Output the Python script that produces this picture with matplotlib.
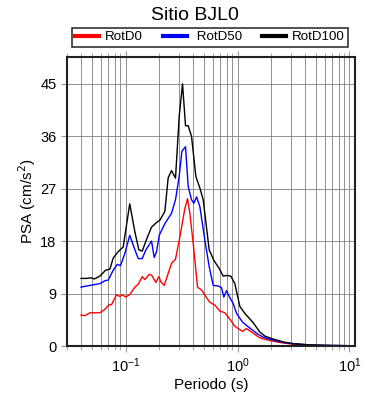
import matplotlib.pyplot as plt
import numpy as np

plt.rcParams['font.family'] = ['Liberation Sans', 'DejaVu Sans']

# RotD100 (black)
per_d100 = [0.040, 0.0442, 0.0497, 0.0525, 0.0590, 0.0663, 0.0725, 0.0776, 0.0861, 0.0953,
            0.109, 0.1211, 0.1315, 0.1409, 0.1540, 0.1706, 0.1892, 0.2026, 0.2244, 0.2404,
            0.2576, 0.2794, 0.3013, 0.3228, 0.3432, 0.3626, 0.3882, 0.4246, 0.4612, 0.4937,
            0.5585, 0.6150, 0.6862, 0.7447, 0.7976, 0.8720, 0.9462, 1.049, 1.162, 1.380,
            1.583, 1.754, 2.081, 2.557, 3.141, 4.426, 6.240, 10.0]
psa_d100 = [11.6, 11.6, 11.7, 11.5, 12.0, 13.0, 13.2, 15.1, 16.2, 17.0,
            24.4, 19.6, 16.5, 16.3, 18.3, 20.4, 21.2, 21.6, 23.1, 28.9,
            30.1, 28.8, 39.4, 45.0, 37.8, 37.8, 36.0, 29.1, 27.1, 25.1,
            16.5, 14.7, 13.3, 12.0, 12.1, 12.0, 10.7, 6.8, 5.6, 4.0,
            2.4, 1.7, 1.2, 0.7, 0.4, 0.2, 0.1, 0.05]

# RotD50 (blue)
per_d50 = [0.040, 0.0449, 0.0514, 0.0590, 0.0654, 0.0700, 0.0776, 0.0843, 0.0902, 0.0986,
           0.109, 0.1187, 0.1298, 0.1409, 0.1520, 0.1706, 0.1803, 0.1892, 0.200, 0.2244,
           0.2576, 0.2794, 0.3013, 0.3184, 0.3432, 0.3626, 0.3882, 0.4075, 0.4305, 0.4612,
           0.5108, 0.5585, 0.6064, 0.6723, 0.7197, 0.7551, 0.7976, 0.8541, 0.9142, 0.9796,
           1.108, 1.245, 1.478, 1.695, 2.081, 2.739, 4.426, 10.0]
psa_d50 = [10.1, 10.3, 10.5, 10.7, 11.2, 11.3, 13.0, 14.0, 13.8, 15.9,
           19.0, 17.0, 15.0, 15.0, 16.5, 18.0, 15.2, 16.2, 19.0, 21.0,
           22.8, 25.1, 29.1, 33.4, 34.2, 27.4, 25.1, 24.5, 25.6, 23.9,
           18.2, 13.6, 10.4, 10.3, 10.0, 8.4, 9.5, 8.3, 7.3, 5.6,
           4.1, 3.3, 2.2, 1.5, 1.0, 0.5, 0.17, 0.05]

# RotD0 (red)
per_d0 = [0.040, 0.0433, 0.0481, 0.0532, 0.0590, 0.0654, 0.0714, 0.0750, 0.0831, 0.0890,
          0.0940, 0.100, 0.109, 0.1211, 0.1298, 0.1409, 0.1489, 0.1626, 0.1706, 0.1866,
          0.1986, 0.2068, 0.2214, 0.2576, 0.2794, 0.3055, 0.3386, 0.3578, 0.3750, 0.4020,
          0.4395, 0.4772, 0.5287, 0.5662, 0.6281, 0.6953, 0.7706, 0.8254, 0.9462, 1.108,
          1.203, 1.334, 1.583, 1.879, 2.387, 3.141, 4.426, 10.0]
psa_d0 = [5.3, 5.2, 5.7, 5.7, 5.7, 6.3, 7.1, 7.1, 8.8, 8.5,
          8.8, 8.4, 8.8, 10.1, 10.6, 11.9, 11.4, 12.3, 12.2, 10.9,
          11.9, 11.0, 10.4, 14.2, 14.9, 18.7, 23.6, 25.3, 22.8, 17.6,
          10.1, 9.6, 8.3, 7.5, 7.0, 6.0, 5.7, 5.0, 3.4, 2.5,
          3.0, 2.4, 1.4, 1.0, 0.6, 0.3, 0.1, 0.05]

yticks = [0, 9, 18, 27, 36, 45]

fig = plt.figure(figsize=(3.9, 4.0), dpi=100)
ax = fig.add_axes([67/390, 54/400, 288/390, 289/400])

ax.plot(per_d0, psa_d0, color='red', lw=1.0, label='RotD0')
ax.plot(per_d50, psa_d50, color='blue', lw=1.0, label=' RotD50')
ax.plot(per_d100, psa_d100, color='black', lw=1.0, label='RotD100')

ax.set_xscale('log')
ax.set_xlim(0.03, 11.2)
ax.set_ylim(0, 49.6)
ax.set_yticks(yticks)
ax.grid(True, which='both', color='#808080', lw=0.6)
ax.set_axisbelow(True)

for s in ax.spines.values():
    s.set_linewidth(1.5)
    s.set_color('#222222')

ax.tick_params(which='both', direction='out', color='#999999', labelsize=10.5, top=True)
ax.tick_params(which='minor', length=3)
ax.tick_params(which='major', length=4)

ax.set_xlabel('Periodo (s)', fontsize=11, labelpad=2)
ax.set_ylabel('PSA (cm/s$^2$)', fontsize=11, labelpad=2)

fig.text(0.5, 1 - 15/400, 'Sitio BJL0', ha='center', va='center', fontsize=14)

leg = ax.legend(loc='lower left', bbox_to_anchor=(5/288, 1 + 10.3/289, 276/288, 18.4/289),
                mode='expand', ncol=3, fontsize=9.6, frameon=True, fancybox=False,
                edgecolor='black', handlelength=1.8, borderpad=0.25, borderaxespad=0,
                handletextpad=0.45)
leg.get_frame().set_linewidth(1.2)
for l in leg.get_lines():
    l.set_linewidth(3)

fig.savefig('out.png', dpi=100)
